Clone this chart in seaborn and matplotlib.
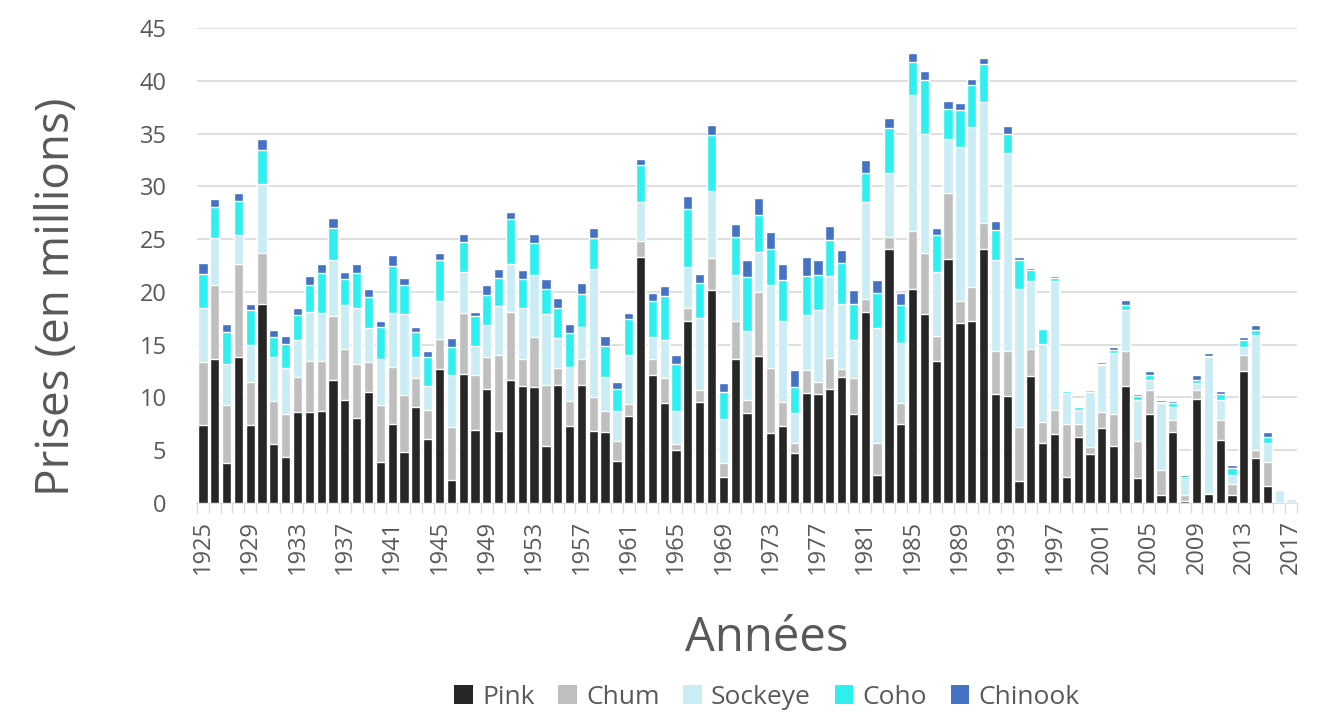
import numpy as np
import pandas as pd
import matplotlib
matplotlib.use("Agg")
import matplotlib.pyplot as plt
from matplotlib.patches import Patch
import seaborn as sns

# ------------------------------------------
# Data (millions of fish)
# ------------------------------------------
years = list(range(1925, 2018))

pink = [7.4, 13.6, 3.8, 13.8, 7.4, 18.9, 5.6, 4.4, 8.6, 8.6,
        8.7, 11.7, 9.8, 8.1, 10.5, 3.9, 7.5, 4.8, 9.1, 6.1,
        12.7, 2.2, 12.2, 6.9, 10.8, 6.8, 11.7, 11.1, 11.0, 5.4,
        11.2, 7.3, 11.2, 6.8, 6.7, 4.0, 8.2, 23.3, 12.1, 9.5,
        5.0, 17.2, 9.6, 20.2, 2.5, 13.6, 8.5, 13.9, 6.6, 7.3,
        4.7, 10.4, 10.3, 10.8, 11.9, 8.4, 18.1, 2.7, 24.1, 7.5,
        20.3, 17.9, 13.5, 23.1, 17.1, 17.2, 24.1, 10.3, 10.1, 2.1,
        12.0, 5.7, 6.5, 2.5, 6.3, 4.6, 7.1, 5.4, 11.1, 2.4,
        8.4, 0.8, 6.7, 0.2, 9.9, 0.9, 6.0, 0.8, 12.5, 4.3,
        1.6, 0.0, 0.0]

chum = [6.0, 7.1, 5.5, 8.8, 4.1, 4.8, 4.1, 4.0, 3.3, 4.9,
        4.8, 6.0, 4.8, 5.1, 2.9, 5.4, 5.4, 5.4, 2.7, 2.7,
        2.8, 5.0, 5.8, 5.2, 3.0, 7.2, 6.4, 2.5, 4.7, 5.8,
        1.6, 2.4, 2.4, 3.2, 2.0, 1.9, 1.2, 1.5, 1.5, 2.3,
        0.6, 1.3, 1.1, 3.0, 1.3, 3.6, 1.3, 6.1, 6.2, 2.3,
        1.0, 2.2, 1.2, 2.9, 0.8, 3.4, 1.2, 3.0, 1.1, 2.0,
        5.5, 5.8, 2.3, 6.3, 2.0, 3.3, 2.4, 4.1, 4.3, 5.1,
        2.6, 2.0, 2.3, 5.0, 1.2, 0.7, 1.5, 3.0, 3.3, 3.5,
        2.3, 2.3, 1.2, 0.6, 0.8, 0.05, 1.9, 1.0, 1.5, 0.7,
        2.3, 0.0, 0.0]

sockeye = [5.1, 4.4, 3.9, 2.8, 3.5, 6.5, 4.1, 4.4, 3.5, 4.6,
           4.5, 5.3, 4.2, 5.3, 3.2, 4.3, 5.1, 7.7, 2.0, 2.3,
           3.6, 4.9, 3.9, 2.8, 3.1, 4.7, 4.5, 4.9, 5.9, 6.7,
           2.8, 3.2, 3.1, 12.2, 3.2, 2.8, 4.6, 3.7, 2.1, 3.6,
           3.1, 3.9, 6.8, 6.4, 4.2, 4.4, 6.5, 3.8, 7.9, 7.6,
           2.8, 5.2, 6.8, 7.8, 6.2, 3.6, 9.2, 10.9, 6.1, 5.7,
           12.9, 11.3, 6.1, 5.1, 14.6, 15.1, 11.5, 8.6, 18.8, 13.1,
           6.4, 7.4, 12.2, 2.9, 1.3, 5.2, 4.5, 5.8, 3.9, 3.9,
           1.0, 6.4, 1.2, 1.5, 0.7, 12.9, 1.9, 0.9, 0.8, 10.9,
           1.8, 1.2, 0.4]

coho = [3.2, 2.9, 3.0, 3.2, 3.3, 3.2, 1.9, 2.3, 2.4, 2.6,
        3.8, 3.1, 2.4, 3.3, 2.9, 3.1, 4.5, 2.8, 2.4, 2.7,
        3.9, 2.7, 2.8, 2.8, 2.8, 2.6, 4.3, 2.7, 3.0, 2.4,
        2.9, 3.2, 3.1, 2.9, 3.0, 2.1, 3.4, 3.5, 3.4, 4.2,
        4.5, 5.5, 3.3, 5.3, 2.5, 3.6, 5.1, 3.5, 3.4, 3.9,
        2.5, 3.7, 3.3, 3.4, 3.8, 3.5, 2.8, 3.3, 4.2, 3.6,
        3.1, 5.1, 3.5, 2.8, 3.5, 4.0, 3.6, 2.9, 1.8, 2.7,
        1.1, 1.4, 0.3, 0.2, 0.3, 0.2, 0.1, 0.3, 0.5, 0.3,
        0.4, 0.1, 0.4, 0.2, 0.3, 0.1, 0.5, 0.6, 0.6, 0.5,
        0.6, 0.0, 0.0]

chinook = [1.0, 0.8, 0.8, 0.8, 0.6, 1.1, 0.7, 0.7, 0.7, 0.8,
           0.8, 0.9, 0.7, 0.8, 0.8, 0.5, 1.0, 0.6, 0.5, 0.6,
           0.7, 0.8, 0.8, 0.4, 1.0, 0.9, 0.7, 0.9, 0.9, 0.9,
           0.9, 0.9, 1.0, 1.0, 0.9, 0.7, 0.6, 0.6, 0.8, 1.0,
           0.8, 1.2, 0.9, 0.9, 0.9, 1.2, 1.6, 1.6, 1.6, 1.5,
           1.6, 1.8, 1.4, 1.3, 1.3, 1.3, 1.2, 1.2, 1.0, 1.1,
           0.8, 0.8, 0.7, 0.8, 0.7, 0.6, 0.6, 0.8, 0.7, 0.3,
           0.2, 0.1, 0.2, 0.1, 0.1, 0.1, 0.2, 0.3, 0.4, 0.2,
           0.4, 0.2, 0.2, 0.2, 0.4, 0.3, 0.3, 0.3, 0.3, 0.5,
           0.4, 0.0, 0.0]

species = ["Pink", "Chum", "Sockeye", "Coho", "Chinook"]
colors = ["#262626", "#bfbfbf", "#c9ecf5", "#2ef0f0", "#4472c4"]

df = pd.DataFrame({"Year": [str(y) for y in years],
                   "Pink": pink, "Chum": chum, "Sockeye": sockeye,
                   "Coho": coho, "Chinook": chinook})

# cumulative tops for stacking
cum = df[species].cumsum(axis=1)

# ------------------------------------------
# Plot
# ------------------------------------------
sns.set_theme(style="white")
plt.rcParams["font.family"] = ["Open Sans", "DejaVu Sans"]
text_col = "#595959"

fig = plt.figure(figsize=(13.17, 7.14), dpi=100)
ax = fig.add_axes([197 / 1317, 1 - 503 / 714, 1100 / 1317, 475 / 714])

# draw tallest layer first, then cover with lower layers
for name, col in zip(species[::-1], colors[::-1]):
    sns.barplot(x=df["Year"], y=cum[name], color=col, width=0.78,
                saturation=1, ax=ax, zorder=3)

ax.set_ylim(0, 45)
ax.set_xlim(-0.5, len(years) - 0.5)
ax.set_yticks(np.arange(0, 46, 5))
ax.grid(axis="y", color="#d9d9d9", linewidth=1.2, zorder=0)
ax.set_axisbelow(True)

for s in ["top", "right", "left"]:
    ax.spines[s].set_visible(False)
ax.spines["bottom"].set_color("#d9d9d9")
ax.spines["bottom"].set_linewidth(1.2)

major = np.arange(0, len(years), 4)
ax.set_xticks(major)
ax.set_xticklabels([years[i] for i in major], rotation=90)
ax.set_xticks(np.arange(-0.5, len(years), 1), minor=True)
ax.tick_params(axis="x", which="major", length=0, pad=12,
               labelsize=17, labelcolor=text_col)
ax.tick_params(axis="x", which="minor", length=7, width=1,
               color="#d9d9d9", bottom=True)
ax.tick_params(axis="y", length=0, pad=22, labelsize=17,
               labelcolor=text_col)

ax.set_xlabel("")
ax.set_ylabel("")
fig.text(57 / 1317, 1 - 297 / 714, "Prises (en millions)", rotation=90,
         ha="center", va="center", fontsize=33, color=text_col)
fig.text(767 / 1317, 1 - 638 / 714, "Années", ha="center", va="center",
         fontsize=34, color=text_col)

handles = [Patch(facecolor=c, edgecolor="none") for c in colors]
leg = fig.legend(handles, species, loc="center", ncol=5,
                 bbox_to_anchor=(767 / 1317, 1 - 697 / 714), frameon=False,
                 fontsize=19, handlelength=0.7, handleheight=0.7,
                 handletextpad=0.35, columnspacing=0.9)
for t in leg.get_texts():
    t.set_color(text_col)

fig.savefig("out.png", dpi=100, facecolor="white")
